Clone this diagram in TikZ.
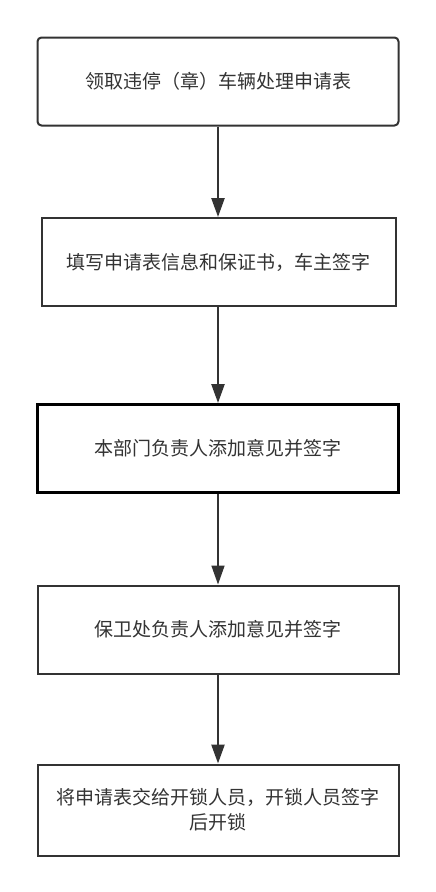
\documentclass[tikz,border=0pt]{standalone}
\usepackage{fontspec}
\setmainfont{Noto Sans CJK SC}
\usetikzlibrary{arrows.meta}
\definecolor{ln}{HTML}{333333}
\definecolor{tx}{HTML}{333333}
\tikzset{
  stepbox/.style={draw=ln, line width=2pt, fill=white, minimum width=361pt, minimum height=88pt, inner sep=0pt, text=tx, font=\fontsize{19}{25}\selectfont, align=center},
  flow/.style={draw=ln, line width=2.4pt, -{Triangle[length=19pt,width=13pt]}, shorten >=0pt},
}
\begin{document}
\begin{tikzpicture}[x=1pt,y=-1pt]
\useasboundingbox[fill=white] (0,0) rectangle (436,892);
\node[stepbox, rounded corners=4pt] (a) at (218,81.5) {领取违停（章）车辆处理申请表};
\node[stepbox, minimum width=354pt] (b) at (218.5,262) {填写申请表信息和保证书，车主签字};
\node[stepbox, draw=black, line width=3pt] (c) at (218,448.5) {本部门负责人添加意见并签字};
\node[stepbox] (d) at (218,629.5) {保卫处负责人添加意见并签字};
\node[stepbox, minimum height=91pt] (e) at (218,810) {将申请表交给开锁人员，开锁人员签字\\后开锁};
\draw[flow] (a.south -| 218,0) -- (b.north -| 218,0);
\draw[flow] (b.south -| 218,0) -- (c.north -| 218,0);
\draw[flow, line width=1.6pt] (c.south -| 218,0) -- (d.north -| 218,0);
\draw[flow] (d.south -| 218,0) -- (e.north -| 218,0);
\end{tikzpicture}
\end{document}
